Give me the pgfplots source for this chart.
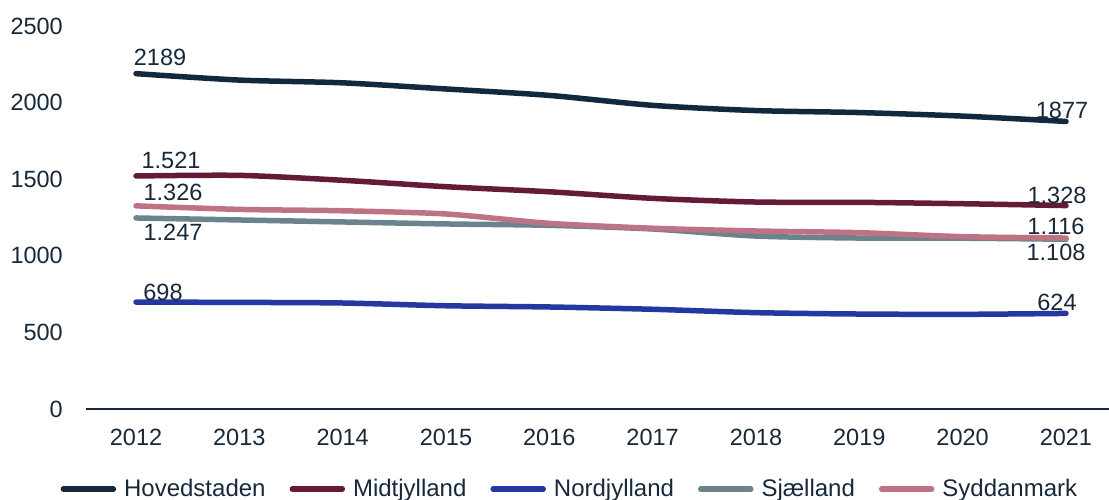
\documentclass[border=0pt]{standalone}
\usepackage{pgfplots}
\pgfplotsset{compat=1.18}
\usepackage{fontspec}
\setmainfont{Liberation Sans}
\definecolor{textc}{RGB}{23,40,58}
\definecolor{cHov}{RGB}{18,40,60}
\definecolor{cMid}{RGB}{100,26,56}
\definecolor{cNor}{RGB}{37,55,160}
\definecolor{cSja}{RGB}{106,131,140}
\definecolor{cSyd}{RGB}{190,115,132}
\begin{document}
\fontsize{23.5}{28}\selectfont
\begin{tikzpicture}
\begin{axis}[
  scale only axis,
  width=1023pt, height=383pt,
  xmin=2011.516, xmax=2021.416,
  ymin=0, ymax=2500,
  axis lines*=left,
  y axis line style={draw=none},
  x axis line style={draw=textc, line width=2pt},
  tick style={draw=none},
  major tick length=0pt,
  xtick={2012,...,2021},
  xticklabels={2012,2013,2014,2015,2016,2017,2018,2019,2020,2021},
  ytick={0,500,1000,1500,2000,2500},
  yticklabels={0,500,1000,1500,2000,2500},
  xticklabel style={anchor=center, inner sep=0pt, yshift=-28pt, text=textc},
  yticklabel style={anchor=east, inner sep=0pt, xshift=-23pt, text=textc},
  clip=false,
  legend columns=5,
  legend style={draw=none, fill=none, at={(axis description cs:0.473,-0.209)}, anchor=center,
    font=\fontsize{24}{28}\selectfont, text=textc,
    /tikz/every odd column/.append style={column sep=6pt},
    /tikz/every even column/.append style={column sep=22pt}},
  legend image code/.code={\draw[#1, line width=5.5pt, line cap=round] (0pt,0pt) -- (50pt,0pt);},
  every axis plot/.append style={line width=5.5pt, line cap=round, line join=round, smooth, tension=0.45},
  name=ax,
]
\addplot[cHov] coordinates {(2012,2189) (2013,2147) (2014,2129) (2015,2089) (2016,2047) (2017,1982) (2018,1948) (2019,1935) (2020,1912) (2021,1877)};
\addlegendentry{Hovedstaden}
\addplot[cMid] coordinates {(2012,1521) (2013,1525) (2014,1493) (2015,1451) (2016,1418) (2017,1375) (2018,1351) (2019,1349) (2020,1340) (2021,1328)};
\addlegendentry{Midtjylland}
\addplot[cNor] coordinates {(2012,698) (2013,696) (2014,692) (2015,674) (2016,666) (2017,651) (2018,629) (2019,620) (2020,618) (2021,624)};
\addlegendentry{Nordjylland}
\addplot[cSja] coordinates {(2012,1247) (2013,1234) (2014,1221) (2015,1208) (2016,1199) (2017,1175) (2018,1129) (2019,1116) (2020,1115) (2021,1108)};
\addlegendentry{Sjælland}
\addplot[cSyd] coordinates {(2012,1326) (2013,1303) (2014,1294) (2015,1273) (2016,1212) (2017,1180) (2018,1162) (2019,1151) (2020,1125) (2021,1116)};
\addlegendentry{Syddanmark}

\begin{scope}[every node/.style={text=textc, inner sep=0pt, anchor=center}]
\node[xshift=24pt, yshift=16pt] at (axis cs:2012,2189) {2189};
\node[xshift=-4pt, yshift=11pt] at (axis cs:2021,1877) {1877};
\node[xshift=35pt, yshift=16pt] at (axis cs:2012,1521) {1.521};
\node[xshift=-9pt, yshift=10pt] at (axis cs:2021,1328) {1.328};
\node[xshift=37pt, yshift=13pt] at (axis cs:2012,1326) {1.326};
\node[xshift=-10pt, yshift=12pt] at (axis cs:2021,1116) {1.116};
\node[xshift=37pt, yshift=-14pt] at (axis cs:2012,1247) {1.247};
\node[xshift=-10pt, yshift=-13pt] at (axis cs:2021,1108) {1.108};
\node[xshift=27pt, yshift=10pt] at (axis cs:2012,698) {698};
\node[xshift=-9pt, yshift=11pt] at (axis cs:2021,624) {624};
\end{scope}
\coordinate (sw) at (rel axis cs:0,0);
\coordinate (ne) at (rel axis cs:1,1);
\end{axis}
\pgfresetboundingbox
\path[use as bounding box] ([shift={(-86pt,-90pt)}]sw) rectangle ([shift={(0pt,26pt)}]ne);
\end{tikzpicture}
\end{document}
